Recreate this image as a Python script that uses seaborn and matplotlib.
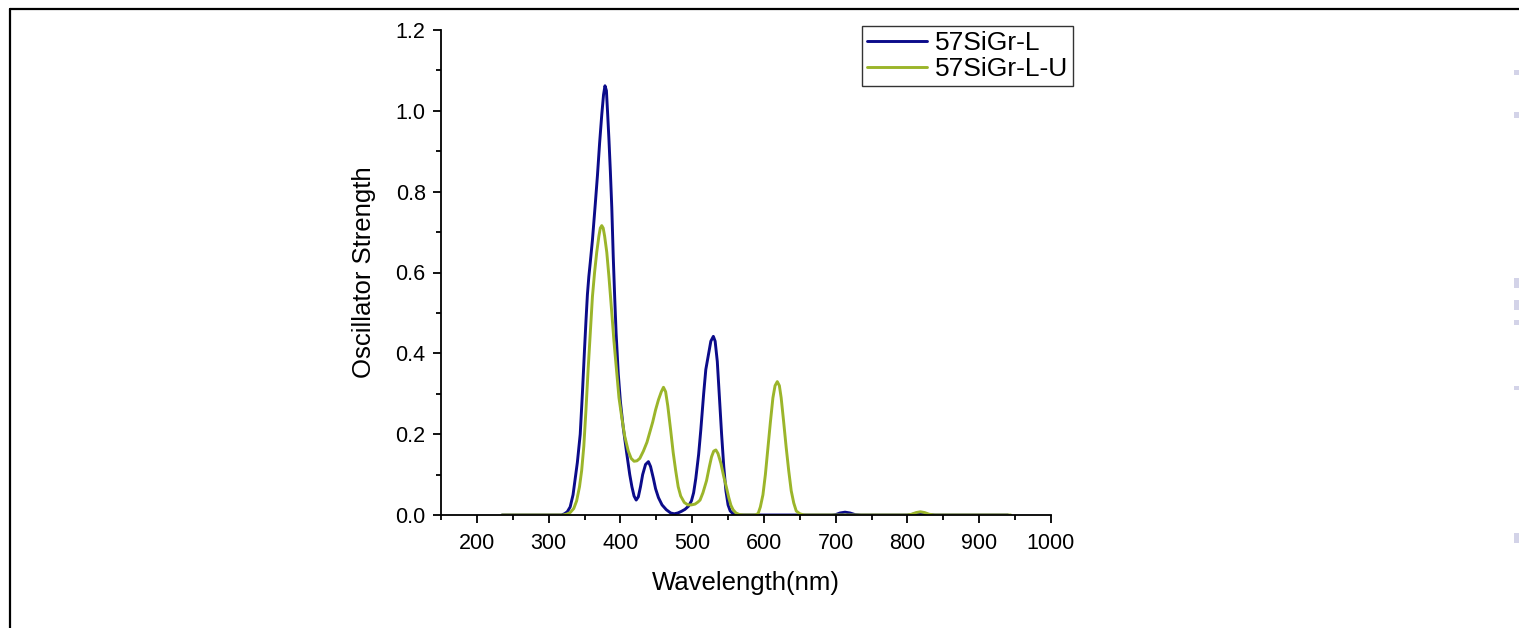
import matplotlib
matplotlib.use("Agg")
import matplotlib.pyplot as plt
from matplotlib.lines import Line2D
from matplotlib.patches import Rectangle
from matplotlib.ticker import MultipleLocator
import numpy as np
import pandas as pd
import seaborn as sns

# Simulated absorption spectra (oscillator strength vs wavelength)
series_names = ["57SiGr-L", "57SiGr-L-U"]
series_colors = ["#0b0b8a", "#9bb52a"]

wl_L = [235, 300, 318, 322, 326, 330, 334, 337, 340, 344, 347, 350, 352, 354,
        356, 358, 361, 365, 368, 371, 374, 376.5, 378.5, 380.5, 382, 384, 386,
        388, 390, 392, 394, 397, 400, 404, 409, 413, 416, 419, 422, 425, 428,
        431, 435, 439, 442, 446, 449, 453, 458, 464, 470, 475, 480, 485, 490,
        495, 499, 502, 505, 509, 512, 516, 519, 523, 526, 529.5, 532, 535, 538,
        541, 544, 547, 550, 553, 557, 562, 600, 695, 700, 706, 713, 720, 727,
        735, 800, 808, 815, 822, 830, 838, 940]
os_L = [0, 0, 0, 0.003, 0.008, 0.02, 0.05, 0.09, 0.13, 0.20, 0.30, 0.41, 0.48,
        0.545, 0.59, 0.625, 0.68, 0.77, 0.84, 0.92, 0.99, 1.04, 1.062, 1.05,
        1.00, 0.93, 0.85, 0.76, 0.64, 0.54, 0.45, 0.35, 0.28, 0.215, 0.15,
        0.10, 0.07, 0.047, 0.037, 0.045, 0.07, 0.10, 0.125, 0.132, 0.12, 0.09,
        0.065, 0.043, 0.025, 0.013, 0.005, 0.003, 0.005, 0.009, 0.014, 0.022,
        0.035, 0.055, 0.09, 0.15, 0.21, 0.30, 0.36, 0.40, 0.43, 0.442, 0.43,
        0.38, 0.29, 0.20, 0.12, 0.06, 0.025, 0.01, 0.003, 0, 0, 0, 0.001,
        0.005, 0.007, 0.005, 0.001, 0, 0, 0.002, 0.004, 0.003, 0.001, 0, 0]

wl_LU = [235, 320, 325, 330, 335, 339, 343, 346, 349, 352, 355, 358, 361, 364,
         367, 370, 372, 374, 376, 378, 381, 384, 388, 391, 395, 398, 402, 406,
         411, 415, 419, 423, 427, 432, 437, 441, 445, 449, 453, 457, 460, 463,
         466, 470, 473.5, 477, 480.5, 484, 489, 494, 499, 504, 508, 511, 515,
         520, 524, 527, 530, 533, 536, 540, 544, 547.5, 551, 554, 557, 561, 566,
         572, 588, 592, 595, 598.6, 602, 605.6, 609, 612.5, 615.5, 618.6, 621.5,
         624, 627.5, 631, 634.5, 638, 641.5, 645, 650, 656, 800, 806, 812, 818,
         824, 830, 837, 944]
os_LU = [0, 0, 0.002, 0.006, 0.016, 0.035, 0.07, 0.11, 0.17, 0.26, 0.36, 0.45,
         0.54, 0.60, 0.65, 0.69, 0.71, 0.716, 0.71, 0.69, 0.65, 0.59, 0.50,
         0.43, 0.35, 0.29, 0.24, 0.195, 0.158, 0.14, 0.133, 0.134, 0.14, 0.158,
         0.18, 0.205, 0.23, 0.26, 0.285, 0.305, 0.316, 0.305, 0.27, 0.21,
         0.155, 0.11, 0.07, 0.047, 0.031, 0.025, 0.025, 0.027, 0.032, 0.037,
         0.055, 0.085, 0.12, 0.144, 0.158, 0.161, 0.152, 0.128, 0.095, 0.07,
         0.043, 0.024, 0.013, 0.005, 0.001, 0, 0, 0.004, 0.02, 0.05, 0.10,
         0.167, 0.23, 0.29, 0.32, 0.330, 0.32, 0.29, 0.23, 0.167, 0.11, 0.06,
         0.03, 0.01, 0.003, 0, 0, 0.002, 0.006, 0.008, 0.006, 0.002, 0, 0]

x_ticks = [200, 300, 400, 500, 600, 700, 800, 900, 1000]
y_ticks = [0.0, 0.2, 0.4, 0.6, 0.8, 1.0, 1.2]

df = pd.concat([
    pd.DataFrame({"Wavelength": wl_L, "Strength": os_L, "Series": series_names[0]}),
    pd.DataFrame({"Wavelength": wl_LU, "Strength": os_LU, "Series": series_names[1]}),
], ignore_index=True)

sns.set_style("ticks")
plt.rcParams["font.family"] = ["Liberation Sans", "DejaVu Sans"]
plt.rcParams["text.color"] = "black"
plt.rcParams["axes.labelcolor"] = "black"
plt.rcParams["xtick.color"] = "black"
plt.rcParams["ytick.color"] = "black"

fig = plt.figure(figsize=(15.19, 6.28), dpi=100)
ax = fig.add_axes([441 / 1519, 1 - 515 / 628, (1051 - 441) / 1519, (515 - 30) / 628])

sns.lineplot(data=df, x="Wavelength", y="Strength", hue="Series",
             palette=dict(zip(series_names, series_colors)), sort=False,
             estimator=None, linewidth=2.1, ax=ax, legend=False)

ax.set_xlim(150, 1000)
ax.set_ylim(0, 1.2)
ax.set_xticks(x_ticks)
ax.set_xticklabels([str(v) for v in x_ticks])
ax.set_yticks(y_ticks)
ax.set_yticklabels([f"{v:.1f}" for v in y_ticks])
ax.xaxis.set_minor_locator(MultipleLocator(50))
ax.yaxis.set_minor_locator(MultipleLocator(0.1))
ax.tick_params(which="major", direction="out", length=6, width=1.3,
               labelsize=15.5, labelcolor="black", pad=5)
ax.tick_params(axis="x", which="major", pad=7)
ax.tick_params(which="minor", direction="out", length=3.5, width=1.3)

for side in ["top", "right"]:
    ax.spines[side].set_visible(False)
for side in ["left", "bottom"]:
    ax.spines[side].set_linewidth(1.3)
    ax.spines[side].set_color("black")

ax.set_xlabel("Wavelength(nm)", fontsize=18.5, labelpad=12, color="black")
ax.set_ylabel("Oscillator Strength", fontsize=18.5, labelpad=14, color="black")

handles = [Line2D([], [], color=c, linewidth=2.1) for c in series_colors]
leg = ax.legend(handles, series_names, loc="upper left",
                bbox_to_anchor=(862 / 1519, 1 - 26 / 628),
                bbox_transform=fig.transFigure, fontsize=19, frameon=True,
                fancybox=False, borderpad=0.18, labelspacing=0.09,
                handlelength=2.3, handletextpad=0.3, borderaxespad=0)
leg.get_frame().set_edgecolor("black")
leg.get_frame().set_linewidth(1.0)
for t in leg.get_texts():
    t.set_color("black")

# page frame lines along the top and left edges
fig.add_artist(Line2D([10 / 1519, 1.0], [1 - 9 / 628, 1 - 9 / 628],
                      transform=fig.transFigure, color="black", linewidth=1.6))
fig.add_artist(Line2D([10 / 1519, 10 / 1519], [0.0, 1 - 9 / 628],
                      transform=fig.transFigure, color="black", linewidth=1.6))

# faint marks along the right edge
for y0, h in [(70, 5), (112, 6), (278, 10), (300, 10), (320, 5), (386, 4), (533, 10)]:
    fig.add_artist(Rectangle((1514 / 1519, 1 - (y0 + h) / 628), 5 / 1519, h / 628,
                             transform=fig.transFigure, color="#d3d3e8", linewidth=0))

fig.savefig("out.png", dpi=100)
